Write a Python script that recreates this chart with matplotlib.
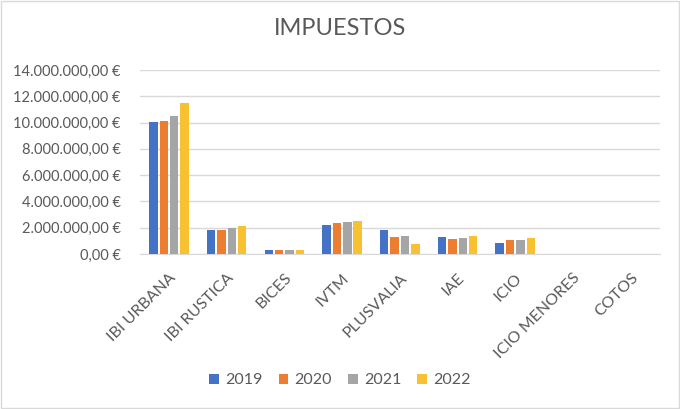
import numpy as np
import matplotlib.pyplot as plt
from matplotlib.ticker import FuncFormatter
from matplotlib.patches import Rectangle

plt.rcParams["font.family"] = ["Lato", "DejaVu Sans"]

categorias = ["IBI URBANA", "IBI RUSTICA", "BICES", "IVTM", "PLUSVALIA",
              "IAE", "ICIO", "ICIO MENORES", "COTOS"]
anios = ["2019", "2020", "2021", "2022"]
v2019 = [10050000, 1810000, 310000, 2210000, 1860000, 1300000, 850000, 0, 0]
v2020 = [10100000, 1860000, 310000, 2340000, 1270000, 1140000, 1080000, 0, 0]
v2021 = [10480000, 1960000, 310000, 2470000, 1350000, 1240000, 1080000, 0, 0]
v2022 = [11450000, 2110000, 310000, 2520000, 740000, 1340000, 1190000, 0, 0]
series = [v2019, v2020, v2021, v2022]
colores = ["#4472C4", "#ED7D31", "#A5A5A5", "#F7C131"]


def euros(v, pos):
    s = f"{v:,.2f}".replace(",", "X").replace(".", ",").replace("X", ".")
    return s + " €"


fig = plt.figure(figsize=(6.8, 4.09), dpi=100)
ax = fig.add_axes([0.206, 0.379, 0.764, 0.45])

x = np.arange(len(categorias))
paso = 0.18
ancho = 0.147
for i, (vals, col, lab) in enumerate(zip(series, colores, anios)):
    ax.bar(x + (i - 1.5) * paso, vals, width=ancho, color=col, label=lab, zorder=3)

ax.set_xlim(-0.5, len(categorias) - 0.5)
ax.set_ylim(0, 14000000)
ax.set_yticks(np.arange(0, 14000001, 2000000))
ax.yaxis.set_major_formatter(FuncFormatter(euros))
ax.set_xticks(x)
ax.set_xticklabels(categorias, rotation=45, ha="right", va="top",
                   rotation_mode="anchor")
ax.tick_params(axis="y", length=0, colors="#595959", labelsize=10.5, pad=14)
ax.tick_params(axis="x", length=0, colors="#595959", labelsize=11.5, pad=12)
ax.grid(axis="y", color="#d9d9d9", lw=1, zorder=0)
for s in ["top", "right", "left"]:
    ax.spines[s].set_visible(False)
ax.spines["bottom"].set_color("#d9d9d9")

fig.suptitle("IMPUESTOS", x=0.5, y=0.955, fontsize=17, color="#595959")

fig.legend(loc="center", bbox_to_anchor=(0.5, 0.07), ncol=4, frameon=False,
           fontsize=11.5, handlelength=0.6, handleheight=0.6,
           columnspacing=1.0, handletextpad=0.4, labelcolor="#595959")

fig.patches.append(Rectangle((0.002, 0.003), 0.996, 0.994, transform=fig.transFigure,
                             fill=False, edgecolor="#d9d9d9", lw=1))

fig.savefig("out.png", dpi=100, facecolor="white")
